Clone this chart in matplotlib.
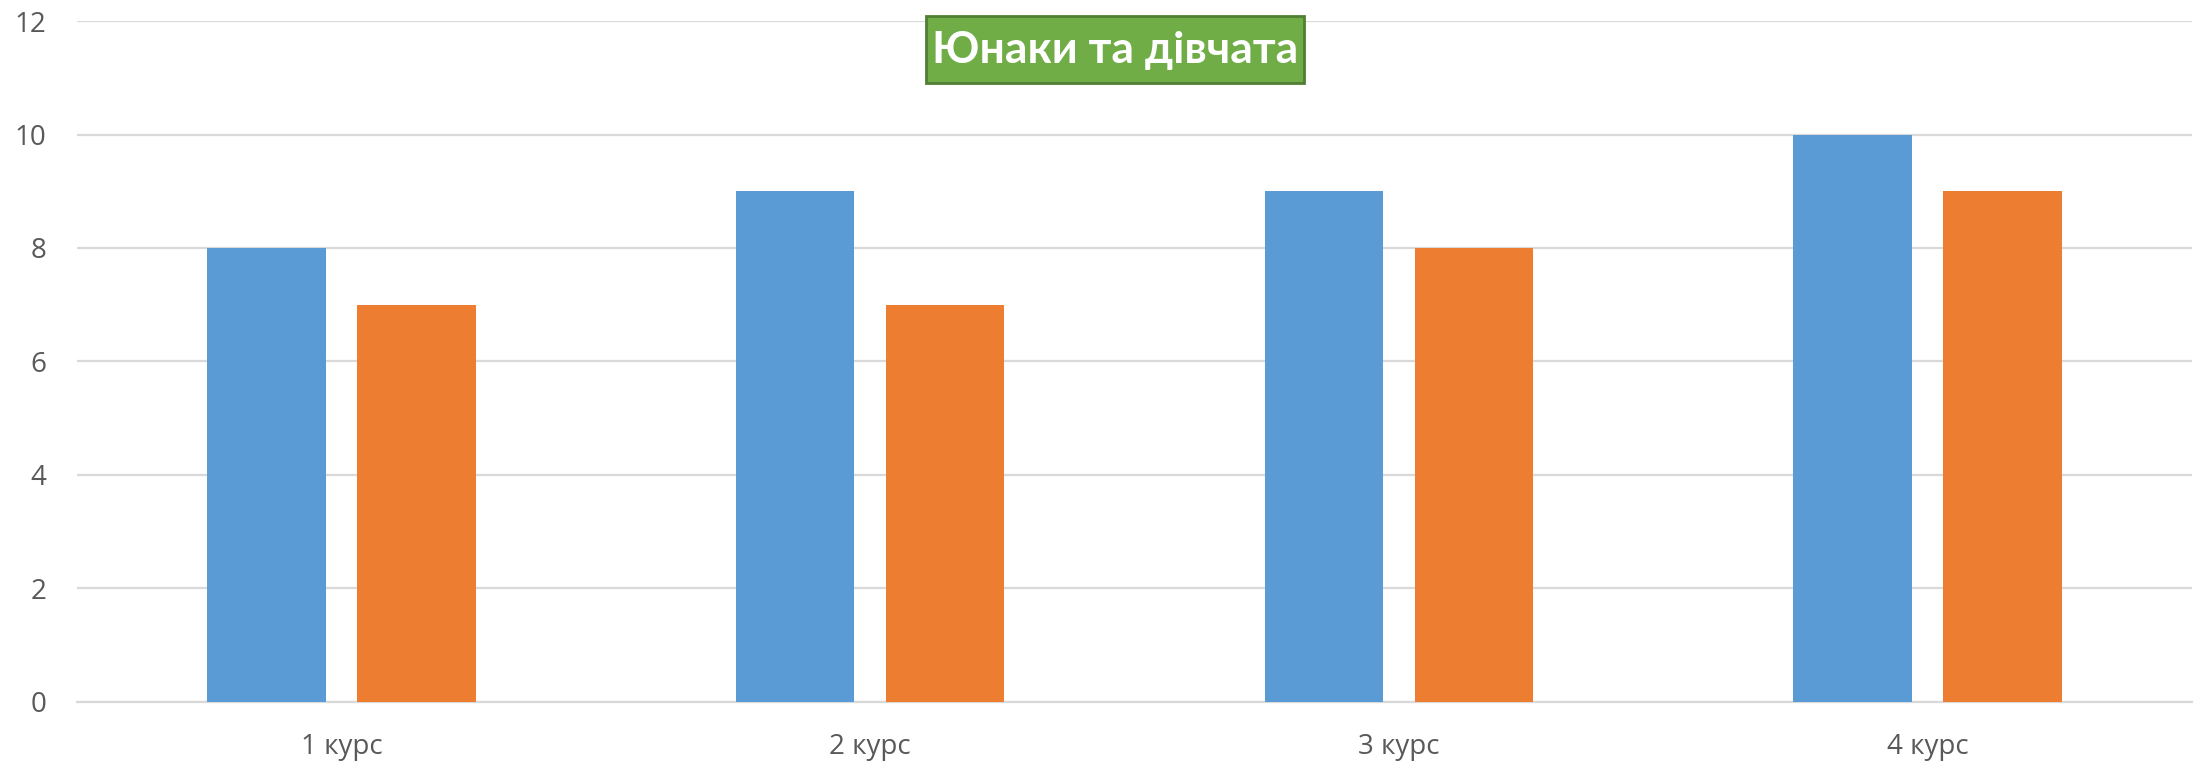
# -*- coding: utf-8 -*-
"""
Юнаки та дівчата: стовпчикова діаграма по курсах
"""

import numpy as np
import matplotlib.pyplot as plt
from matplotlib.patches import Rectangle

plt.rcParams['font.family'] = ['Open Sans', 'DejaVu Sans']

# Дані
kursy = ["1 курс", "2 курс", "3 курс", "4 курс"]
yunaky = [8, 9, 9, 10]
divchata = [7, 7, 8, 9]
y_ticks = [0, 2, 4, 6, 8, 10, 12]

BLUE = "#5B9BD5"
ORANGE = "#ED7D31"
GRID = "#D9D9D9"
TEXT = "#595959"
W, H = 2201, 764

fig = plt.figure(figsize=(W / 100, H / 100), dpi=100)
ax = fig.add_axes([0.035, 0.0812, 0.9609, 0.8913])

x = np.arange(len(kursy))
w = 0.224
off = 0.142
ax.bar(x - off, yunaky, w, color=BLUE, zorder=3)
ax.bar(x + off, divchata, w, color=ORANGE, zorder=3)

ax.set_xlim(-0.5, len(kursy) - 0.5)
ax.set_ylim(0, 12)
ax.set_yticks(y_ticks)
ax.set_xticks(x)
ax.set_xticklabels(kursy)
ax.tick_params(axis="both", length=0, labelsize=20, labelcolor=TEXT)
ax.tick_params(axis="y", pad=22)
ax.tick_params(axis="x", pad=22)

ax.grid(axis="y", color=GRID, linewidth=1.6, zorder=0)
for s in ["top", "right", "left"]:
    ax.spines[s].set_visible(False)
ax.spines["bottom"].set_color(GRID)
ax.spines["bottom"].set_linewidth(1.6)

# Заголовок у зеленій рамці
fig.add_artist(Rectangle((926 / W, 1 - 83 / H), 378 / W, 67 / H,
                         transform=fig.transFigure, facecolor="#70AD47",
                         edgecolor="#507E32", linewidth=2, zorder=5))
fig.text(1115 / W, 1 - 50 / H, "Юнаки та дівчата", ha="center", va="center",
         fontsize=32, fontweight="bold", color="white", family=["Lato", "DejaVu Sans"],
         zorder=6)

fig.savefig("out.png", dpi=100)
